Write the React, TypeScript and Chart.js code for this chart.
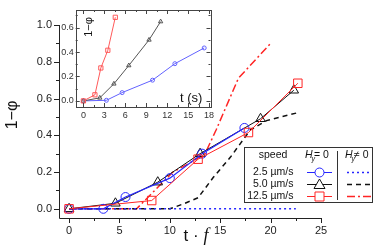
import React, { useEffect, useRef } from "react";
import { Chart, registerables } from "chart.js";
Chart.register(...registerables);

// ---- main panel: 1-phi vs t·f ----
const blueX = [0, 3.4, 5.6, 10.0, 13.2, 17.4];
const blueY = [0, 0, 0.064, 0.167, 0.3, 0.44];
const blackX = [0, 4.6, 8.8, 13.0, 19.0, 22.3];
const blackY = [0, 0.03, 0.145, 0.3, 0.49, 0.645];
const redX = [0, 8.2, 12.8, 17.8, 22.7];
const redY = [0, 0.045, 0.27, 0.415, 0.683];
const blueDotX = [0, 22.5];
const blueDotY = [0, 0];
const blackDashX = [0, 10, 11.5, 12.8, 14.3, 16, 18, 19.6, 22.7];
const blackDashY = [0, 0, 0.03, 0.06, 0.17, 0.28, 0.43, 0.48, 0.523];
const redDashX = [0, 6.7, 8.5, 10.3, 12, 13.5, 14.6, 16.8, 20];
const redDashY = [0, 0, 0.1, 0.2, 0.25, 0.3, 0.43, 0.71, 0.9];

// ---- inset: 1-phi vs t (s) ----
const inBlueT = [0, 3.3, 5.55, 9.9, 13.1, 17.3];
const inBlueY = [0, 0.005, 0.068, 0.17, 0.305, 0.434];
const inBlackT = [0, 2.35, 4.37, 6.5, 9.4, 11.06];
const inBlackY = [0, 0.025, 0.14, 0.29, 0.5, 0.65];
const inRedT = [0, 1.65, 2.5, 3.5, 4.57];
const inRedY = [0, 0.05, 0.27, 0.415, 0.685];

// ---- ticks ----
const xTicks = [0, 5, 10, 15, 20, 25];
const xMinor = [2.5, 7.5, 12.5, 17.5, 22.5];
const yTicks = [0, 0.2, 0.4, 0.6, 0.8, 1.0];
const yMinor = [0.1, 0.3, 0.5, 0.7, 0.9];
const inXTicks = [0, 3, 6, 9, 12, 15, 18];
const inXMinor = [1.5, 4.5, 7.5, 10.5, 13.5, 16.5];
const inYTicks = [0, 0.2, 0.4, 0.6];
const inYMinor = [0.1, 0.3, 0.5, 0.7];

const speeds = ["2.5 \u00b5m/s", "5.0 \u00b5m/s", "12.5 \u00b5m/s"];

const FONT = "'Liberation Sans', Arial, sans-serif";
const BLUE = "#2626ff";
const RED = "#ff2424";
const BLACK = "#111111";

const pts = (xs: number[], ys: number[]) => xs.map((x, i) => ({ x, y: ys[i] }));

function tickLines(ctx: any, scale: any, vals: number[], len: number, side: string, a: any) {
  for (const v of vals) {
    const p = Math.round(scale.getPixelForValue(v)) + 0.5;
    ctx.beginPath();
    if (side === "bottom") { ctx.moveTo(p, a.bottom); ctx.lineTo(p, a.bottom + len); }
    if (side === "top") { ctx.moveTo(p, a.top); ctx.lineTo(p, a.top - len); }
    if (side === "left") { ctx.moveTo(a.left, p); ctx.lineTo(a.left - len, p); }
    if (side === "right") { ctx.moveTo(a.right, p); ctx.lineTo(a.right + len, p); }
    ctx.stroke();
  }
}

function drawMarker(ctx: any, style: string, x: number, y: number, color: string) {
  ctx.save();
  ctx.strokeStyle = color;
  ctx.fillStyle = "#fff";
  ctx.lineWidth = 1;
  ctx.beginPath();
  if (style === "circle") ctx.arc(x, y, 4.5, 0, Math.PI * 2);
  if (style === "rect") ctx.rect(x - 4.5, y - 4.5, 9, 9);
  if (style === "triangle") { ctx.moveTo(x, y - 5.5); ctx.lineTo(x + 5.5, y + 4); ctx.lineTo(x - 5.5, y + 4); ctx.closePath(); }
  ctx.fill();
  ctx.stroke();
  ctx.restore();
}

function drawHy(ctx: any, x: number, y: number, rel: string) {
  ctx.textAlign = "left";
  ctx.textBaseline = "middle";
  ctx.font = `italic 10.5px ${FONT}`;
  ctx.fillText("H", x, y);
  ctx.font = `italic 7px ${FONT}`;
  ctx.fillText("y", x + 6.5, y + 4);
  ctx.font = `10.5px ${FONT}`;
  ctx.fillText(rel + " 0", x + 9, y);
}

const mainDecor = {
  id: "mainDecor",
  afterDraw(chart: any) {
    const { ctx, chartArea: a, scales } = chart;
    const xs = scales.x, ys = scales.y;
    ctx.save();
    ctx.strokeStyle = "#222";
    ctx.lineWidth = 1;
    // axis lines
    ctx.beginPath();
    ctx.moveTo(a.left + 0.5, a.top);
    ctx.lineTo(a.left + 0.5, a.bottom + 0.5);
    ctx.lineTo(a.right, a.bottom + 0.5);
    ctx.stroke();
    tickLines(ctx, xs, xTicks, 5, "bottom", a);
    tickLines(ctx, xs, xMinor, 3, "bottom", a);
    tickLines(ctx, ys, yTicks, 5, "left", a);
    tickLines(ctx, ys, yMinor, 3, "left", a);

    // axis titles
    ctx.fillStyle = "#111";
    ctx.save();
    ctx.translate(13, 115);
    ctx.rotate(-Math.PI / 2);
    ctx.textAlign = "center";
    ctx.textBaseline = "middle";
    ctx.font = `16px ${FONT}`;
    ctx.fillText("1\u2212\u03c6", 0, 0);
    ctx.restore();

    ctx.textAlign = "left";
    ctx.textBaseline = "alphabetic";
    ctx.font = `17px ${FONT}`;
    const t1 = "t \u00b7 ";
    const w1 = ctx.measureText(t1).width;
    ctx.font = `italic 18px 'Liberation Serif', serif`;
    const w2 = ctx.measureText("f").width;
    const sx = 196 - (w1 + w2) / 2;
    ctx.font = `17px ${FONT}`;
    ctx.fillText(t1, sx, 241);
    ctx.font = `italic 18px 'Liberation Serif', serif`;
    ctx.fillText("f", sx + w1, 241);

    // legend
    const L = { l: 244, t: 147, r: 373, b: 203 };
    ctx.fillStyle = "#fff";
    ctx.fillRect(L.l, L.t, L.r - L.l, L.b - L.t);
    ctx.strokeStyle = "#333";
    ctx.lineWidth = 1;
    ctx.strokeRect(L.l + 0.5, L.t + 0.5, L.r - L.l - 1, L.b - L.t - 1);
    ctx.beginPath();
    ctx.moveTo(337.5, 151);
    ctx.lineTo(337.5, 200);
    ctx.stroke();

    ctx.fillStyle = "#111";
    ctx.font = `10.5px ${FONT}`;
    ctx.textAlign = "center";
    ctx.textBaseline = "middle";
    ctx.fillText("speed", 273, 155);
    drawHy(ctx, 305, 155, "=");
    drawHy(ctx, 345, 155, "\u2260");

    const rowsY = [172.5, 184.5, 196.5];
    const cols = [BLUE, BLACK, RED];
    const marks = ["circle", "triangle", "rect"];
    const dashes = [[2, 3], [5, 4], [8, 3, 2, 3]];
    speeds.forEach((s, i) => {
      const y = rowsY[i];
      ctx.fillStyle = "#111";
      ctx.font = `10.5px ${FONT}`;
      ctx.textAlign = "right";
      ctx.textBaseline = "middle";
      ctx.fillText(s, 293.5, y);
      ctx.strokeStyle = cols[i];
      ctx.lineWidth = 1;
      ctx.setLineDash([]);
      ctx.beginPath();
      ctx.moveTo(307, y);
      ctx.lineTo(332, y);
      ctx.stroke();
      drawMarker(ctx, marks[i], 319.5, y, cols[i]);
      ctx.strokeStyle = cols[i];
      ctx.lineWidth = 1.5;
      ctx.setLineDash(dashes[i]);
      ctx.beginPath();
      ctx.moveTo(347, y);
      ctx.lineTo(372, y);
      ctx.stroke();
      ctx.setLineDash([]);
    });
    ctx.restore();
  },
};

const insetDecor = {
  id: "insetDecor",
  afterDraw(chart: any) {
    const { ctx, chartArea: a, scales } = chart;
    const xs = scales.x, ys = scales.y;
    ctx.save();
    ctx.strokeStyle = "#444";
    ctx.lineWidth = 1;
    ctx.strokeRect(Math.round(a.left) + 0.5, Math.round(a.top) + 0.5, Math.round(a.right - a.left), Math.round(a.bottom - a.top));
    tickLines(ctx, xs, inXTicks, -4, "bottom", a);
    tickLines(ctx, xs, inXMinor, -2, "bottom", a);
    tickLines(ctx, xs, inXTicks, -4, "top", a);
    tickLines(ctx, xs, inXMinor, -2, "top", a);
    tickLines(ctx, ys, inYTicks, -4, "left", a);
    tickLines(ctx, ys, inYMinor, -2, "left", a);
    tickLines(ctx, ys, inYTicks, -4, "right", a);
    tickLines(ctx, ys, inYMinor, -2, "right", a);

    ctx.fillStyle = "#111";
    ctx.save();
    ctx.translate(39, 27);
    ctx.rotate(-Math.PI / 2);
    ctx.textAlign = "center";
    ctx.textBaseline = "middle";
    ctx.font = `11px ${FONT}`;
    ctx.fillText("1\u2212\u03c6", 0, 0);
    ctx.restore();

    ctx.textAlign = "left";
    ctx.textBaseline = "middle";
    ctx.font = `13px ${FONT}`;
    ctx.fillText("t (s)", 130, 98);
    ctx.restore();
  },
};

function lineDs(data: any[], color: string, style: any, radius: number, width: number, dash: number[] = []) {
  return {
    data,
    borderColor: color,
    borderWidth: width,
    borderDash: dash,
    pointStyle: style,
    pointRadius: radius,
    pointBorderColor: color,
    pointBackgroundColor: "rgba(255,255,255,0)",
    pointBorderWidth: 1,
    fill: false,
    tension: 0,
  };
}

export default function App() {
  const mainRef = useRef<HTMLCanvasElement>(null);
  const insetRef = useRef<HTMLCanvasElement>(null);

  useEffect(() => {
    document.body.style.margin = "0";
    const main = new Chart(mainRef.current as HTMLCanvasElement, {
      type: "line",
      data: {
        datasets: [
          lineDs(pts(redX, redY), RED, "rect", 6, 1),
          lineDs(pts(blueX, blueY), BLUE, "circle", 4.5, 1.2),
          lineDs(pts(blackX, blackY), BLACK, "triangle", 5.5, 1),
          lineDs(pts(blueDotX, blueDotY), BLUE, "circle", 0, 1.5, [2, 3]),
          lineDs(pts(blackDashX, blackDashY), BLACK, "circle", 0, 1.5, [5, 4]),
          lineDs(pts(redDashX, redDashY), RED, "circle", 0, 1.5, [8, 3, 2, 3]),
        ] as any,
      },
      options: {
        responsive: false,
        animation: false,
        layout: { padding: { left: 0, top: 25, right: 53, bottom: 0 } },
        plugins: { legend: { display: false }, tooltip: { enabled: false } },
        scales: {
          x: {
            type: "linear",
            min: -1,
            max: 25,
            afterBuildTicks: (s: any) => { s.ticks = xTicks.map((v) => ({ value: v })); },
            afterFit: (s: any) => { s.height = 28; },
            grid: { display: false, drawTicks: false },
            border: { display: false },
            ticks: { padding: 6, color: "#222", font: { family: FONT, size: 11 }, maxRotation: 0, autoSkip: false, callback: (v: any) => String(v) },
          },
          y: {
            type: "linear",
            min: -0.05,
            max: 1.0,
            afterBuildTicks: (s: any) => { s.ticks = yTicks.map((v) => ({ value: v })); },
            afterFit: (s: any) => { s.width = 59; },
            grid: { display: false, drawTicks: false },
            border: { display: false },
            ticks: { padding: 7, color: "#222", font: { family: FONT, size: 11 }, autoSkip: false, callback: (v: any) => Number(v).toFixed(1) },
          },
        },
      } as any,
      plugins: [mainDecor],
    });

    const inset = new Chart(insetRef.current as HTMLCanvasElement, {
      type: "line",
      data: {
        datasets: [
          lineDs(pts(inRedT, inRedY), "#ff5a5a", "rect", 3, 1),
          lineDs(pts(inBlackT, inBlackY), "#555555", "triangle", 2.5, 1),
          lineDs(pts(inBlueT, inBlueY), "#6262ff", "circle", 2, 1),
        ] as any,
      },
      options: {
        responsive: false,
        animation: false,
        layout: { padding: { left: 0, top: 10, right: 9.5, bottom: 0 } },
        plugins: { legend: { display: false }, tooltip: { enabled: false } },
        scales: {
          x: {
            type: "linear",
            min: -1.1,
            max: 18.2,
            afterBuildTicks: (s: any) => { s.ticks = inXTicks.map((v) => ({ value: v })); },
            afterFit: (s: any) => { s.height = 18; },
            grid: { display: false, drawTicks: false },
            border: { display: false },
            ticks: { padding: 3, color: "#333", font: { family: FONT, size: 9 }, maxRotation: 0, autoSkip: false, callback: (v: any) => String(v) },
          },
          y: {
            type: "linear",
            min: -0.05,
            max: 0.745,
            afterBuildTicks: (s: any) => { s.ticks = inYTicks.map((v) => ({ value: v })); },
            afterFit: (s: any) => { s.width = 25.7; },
            grid: { display: false, drawTicks: false },
            border: { display: false },
            ticks: { padding: 2, color: "#333", font: { family: FONT, size: 9 }, autoSkip: false, callback: (v: any) => Number(v).toFixed(1) },
          },
        },
      } as any,
      plugins: [insetDecor],
    });

    return () => {
      main.destroy();
      inset.destroy();
    };
  }, []);

  return (
    <div style={{ position: "absolute", left: 0, top: 0, width: 374, height: 246, background: "#fff" }}>
      <canvas ref={mainRef} width={374} height={246} style={{ position: "absolute", left: 0, top: 0 }} />
      <canvas ref={insetRef} width={170} height={125} style={{ position: "absolute", left: 50, top: 0 }} />
    </div>
  );
}
